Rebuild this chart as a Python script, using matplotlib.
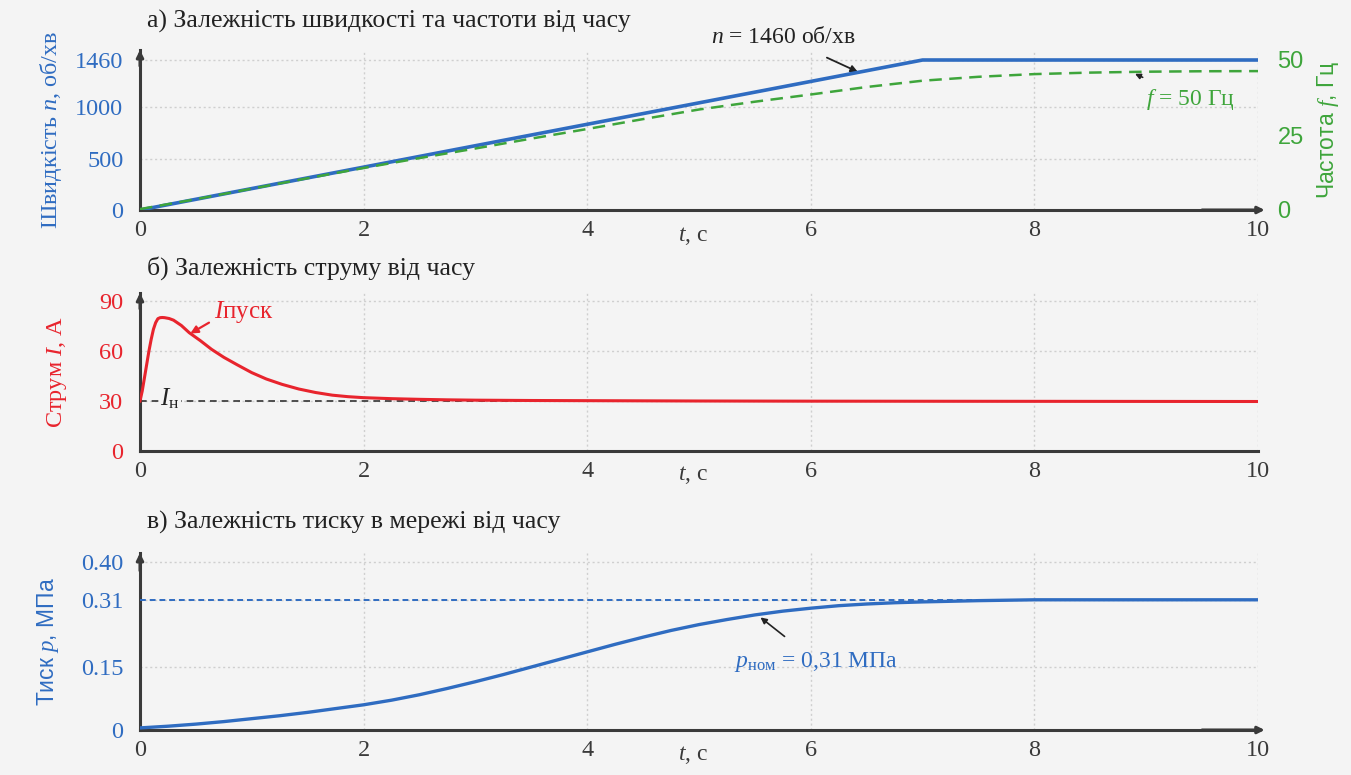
import matplotlib
matplotlib.use("Agg")
import matplotlib.pyplot as plt

# ---------------- data ----------------
t_speed = [0.0, 7.0, 10.0]
n_speed = [0, 1460, 1460]

t_freq = [0, 0.5, 1, 1.5, 2, 2.5, 3, 3.5, 4, 4.5, 5, 5.5, 6, 6.5, 7, 7.5,
          8, 8.5, 9, 9.5, 10]
f_freq = [0.3, 3.6, 7.1, 10.6, 14.0, 17.3, 20.5, 23.8, 27.0, 30.3, 33.5, 36.1,
          38.5, 41.0, 43.1, 44.4, 45.3, 45.8, 46.1, 46.25, 46.3]

t_cur = [0, 0.02, 0.04, 0.06, 0.08, 0.10, 0.12, 0.14, 0.16, 0.18, 0.20, 0.22,
         0.26, 0.30, 0.37, 0.44, 0.54, 0.64, 0.75, 0.87, 1.0, 1.13, 1.27, 1.42,
         1.57, 1.72, 1.86, 2.0, 2.25, 2.5, 2.75, 3.0, 3.5, 4.0, 5.0, 6.0, 8.0, 10.0]
i_cur = [30, 36, 44, 52, 60, 67, 73, 77, 79.4, 80, 80.1, 80,
         79.5, 78.5, 75.3, 71.0, 66.2, 61.0, 56.2, 51.7, 47.0, 43.2, 40.0, 37.2,
         35.1, 33.5, 32.6, 32.0, 31.4, 31.0, 30.7, 30.5, 30.3, 30.2, 30.0, 29.9, 29.8, 29.7]
i_nom = 30

t_pr = [0, 0.25, 0.5, 0.75, 1.0, 1.25, 1.5, 1.75, 2.0, 2.25, 2.5, 2.75, 3.0,
        3.25, 3.5, 3.75, 4.0, 4.25, 4.5, 4.75, 5.0, 5.25, 5.5, 5.75, 6.0, 6.25,
        6.5, 6.75, 7.0, 7.5, 8.0, 10.0]
p_pr = [0.005, 0.009, 0.014, 0.020, 0.027, 0.034, 0.042, 0.051, 0.060, 0.071,
        0.084, 0.099, 0.115, 0.132, 0.150, 0.168, 0.186, 0.204, 0.221, 0.237,
        0.251, 0.263, 0.274, 0.283, 0.290, 0.296, 0.300, 0.303, 0.305, 0.308,
        0.310, 0.310]
p_nom = 0.31

x_ticks = [0, 2, 4, 6, 8, 10]
n_ticks = [0, 500, 1000, 1460]
f_ticks = [0, 25, 50]
i_ticks = [0, 30, 60, 90]
p_ticks = [0, 0.15, 0.31, 0.40]
p_ticklabels = ["0", "0.15", "0.31", "0.40"]

# ---------------- style ----------------
BG = "#f4f4f4"
BLUE = "#2f6cc1"
GREEN = "#3ea53b"
RED = "#e8242d"
DARK = "#3a3a3a"
SERIF = ["Liberation Serif", "DejaVu Serif"]
SANS = ["Liberation Sans", "DejaVu Sans"]
plt.rcParams["font.family"] = SERIF
plt.rcParams["mathtext.fontset"] = "custom"
plt.rcParams["mathtext.rm"] = "Liberation Serif"
plt.rcParams["mathtext.it"] = "Liberation Serif:italic"
plt.rcParams["mathtext.bf"] = "Liberation Serif:bold"

TICK_FS = 17.5
TITLE_FS = 18.5
LAB_FS = 17.5

W, H = 1351, 775
fig = plt.figure(figsize=(W / 100, H / 100), dpi=100, facecolor=BG)


def box(x0, y_top, x1, y_bot):
    return [x0 / W, 1 - y_bot / H, (x1 - x0) / W, (y_bot - y_top) / H]


def style_axes(ax, xarrow=True):
    ax.set_facecolor(BG)
    for s in ("top", "right"):
        ax.spines[s].set_visible(False)
    for s in ("left", "bottom"):
        ax.spines[s].set_color(DARK)
        ax.spines[s].set_linewidth(2.2)
    ax.set_xlim(0, 10)
    ax.set_xticks(x_ticks)
    ax.tick_params(axis="x", length=0, pad=7, labelsize=TICK_FS, labelcolor=DARK)
    ax.tick_params(axis="y", length=0, pad=12, labelsize=TICK_FS)
    ax.grid(True, color="#cfcfcf", linestyle=(0, (1.5, 2)), linewidth=1.0)
    ax.set_axisbelow(True)
    ax.annotate("", xy=(0, 1.0), xytext=(0, 0.9), xycoords="axes fraction",
                arrowprops=dict(arrowstyle="-|>", color=DARK, lw=2.2,
                                mutation_scale=10, shrinkA=0, shrinkB=0))
    if xarrow:
        ax.annotate("", xy=(1.006, 0), xytext=(0.95, 0), xycoords="axes fraction",
                    arrowprops=dict(arrowstyle="-|>", color=DARK, lw=2.2,
                                    mutation_scale=10, shrinkA=0, shrinkB=0))


# ---------------- panel a ----------------
axa = fig.add_axes(box(140, 50, 1258, 210))
style_axes(axa)
axa.set_ylim(0, 1460 * 160 / 150)
axa.set_yticks(n_ticks)
axa.tick_params(axis="y", labelcolor=BLUE)
axa.plot(t_speed, n_speed, color=BLUE, lw=2.6, solid_capstyle="butt", zorder=4)
axa.set_ylabel("Швидкість $n$, об/хв", color=BLUE, fontsize=LAB_FS, labelpad=8)

axf = axa.twinx()
axf.set_ylim(0, 50 * 160 / 150)
axf.set_yticks(f_ticks)
for s in ("top", "right", "left", "bottom"):
    axf.spines[s].set_visible(False)
axf.tick_params(axis="y", length=0, pad=14, labelsize=TICK_FS - 0.5, labelcolor=GREEN)
for lab in axf.get_yticklabels():
    lab.set_family(SANS)
axf.plot(t_freq, f_freq, color=GREEN, lw=1.8, linestyle=(0, (5, 3)), zorder=3)
axf.set_ylabel("Частота $f$, Гц", color=GREEN, fontsize=16.5, labelpad=8,
               family=SANS)

axa.annotate("$n$ = 1460 об/хв", xy=(6.42, 1345), xytext=(5.75, 1680),
             ha="center", va="center", fontsize=17, color="#222222",
             arrowprops=dict(arrowstyle="-|>", color="#222222", lw=1.3,
                             mutation_scale=10, shrinkA=12, shrinkB=0))
axf.annotate("$f$ = 50 Гц", xy=(8.9, 45.4), xytext=(9.4, 36.8),
             ha="center", va="center", fontsize=17, color=GREEN,
             arrowprops=dict(arrowstyle="-|>", color="#222222", lw=1.2,
                             mutation_scale=8, shrinkA=12, shrinkB=0))
axa.text(4.95, -150, "$t$, с", ha="center", va="top", fontsize=17, color=DARK)
fig.text(147 / W, 1 - 21 / H, "а) Залежність швидкості та частоти від часу",
         ha="left", va="center", fontsize=TITLE_FS, color="#222222")

# ---------------- panel b ----------------
axb = fig.add_axes(box(140, 293, 1258, 451))
style_axes(axb, xarrow=False)
axb.set_ylim(0, 90 * 158 / 150)
axb.set_yticks(i_ticks)
axb.tick_params(axis="y", labelcolor=RED)
axb.axhline(i_nom, color="#333333", lw=1.2, linestyle=(0, (4, 3)), zorder=3)
axb.plot(t_cur, i_cur, color=RED, lw=2.2, zorder=4)
axb.set_ylabel("Струм $I$, А", color=RED, fontsize=LAB_FS, labelpad=22)
axb.text(0.27, 31.5, "$I_{\\mathrm{н}}$", ha="center", va="center", fontsize=18,
         color="#222222", zorder=5,
         bbox=dict(facecolor=BG, edgecolor="none", pad=1))
axb.annotate("$I$пуск", xy=(0.45, 70.5), xytext=(0.93, 83.5),
             ha="center", va="center", fontsize=18, color=RED,
             arrowprops=dict(arrowstyle="-|>", color=RED, lw=1.6,
                             mutation_scale=11, shrinkA=2, shrinkB=0,
                             relpos=(0.0, 0.2)))
axb.text(4.95, -8, "$t$, с", ha="center", va="top", fontsize=17, color=DARK)
fig.text(147 / W, 1 - 268 / H, "б) Залежність струму від часу",
         ha="left", va="center", fontsize=TITLE_FS, color="#222222")

# ---------------- panel c ----------------
axc = fig.add_axes(box(140, 553, 1258, 730))
style_axes(axc)
axc.set_ylim(0, 0.40 * 177 / 168)
axc.set_yticks(p_ticks)
axc.set_yticklabels(p_ticklabels)
axc.tick_params(axis="y", labelcolor=BLUE)
axc.axhline(p_nom, color=BLUE, lw=1.4, linestyle=(0, (3, 2)), zorder=3)
axc.plot(t_pr, p_pr, color=BLUE, lw=2.4, zorder=4)
axc.set_ylabel("Тиск $p$, МПа", color=BLUE, fontsize=16.5, labelpad=14,
               family=SANS)
axc.annotate("$p_{\\mathrm{ном}}$ = 0,31 МПа", xy=(5.55, 0.268), xytext=(6.05, 0.163),
             ha="center", va="center", fontsize=17, color=BLUE,
             arrowprops=dict(arrowstyle="-|>", color="#222222", lw=1.2,
                             mutation_scale=9, shrinkA=12, shrinkB=0))
axc.text(4.95, -0.033, "$t$, с", ha="center", va="top", fontsize=17, color=DARK)
fig.text(147 / W, 1 - 522 / H, "в) Залежність тиску в мережі від часу",
         ha="left", va="center", fontsize=TITLE_FS, color="#222222")

fig.savefig("out.png", dpi=100, facecolor=BG)
